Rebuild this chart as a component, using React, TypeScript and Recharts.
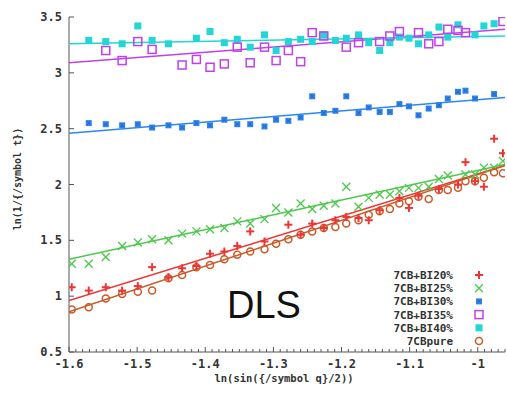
import React from "react";
import { ScatterChart, Scatter, XAxis, YAxis } from "recharts";

// x grid: ln(sin(theta/2)), shared by all series
const xs = [
	-1.596, -1.571, -1.546, -1.522, -1.499, -1.478, -1.454, -1.434, -1.413, -1.393,
	-1.372, -1.353, -1.334, -1.313, -1.296, -1.278, -1.26, -1.243, -1.226, -1.209,
	-1.193, -1.175, -1.16, -1.144, -1.129, -1.115, -1.101, -1.087, -1.072, -1.057,
	-1.044, -1.029, -1.018, -1.004, -0.991, -0.976, -0.963,
];

type V = number | null;

const bi20: V[] = [
	1.08, 1.05, 1.08, 1.05, 1.09, 1.26, 1.17, 1.25, 1.27, 1.38, 1.4, 1.45, 1.58, 1.49,
	null, 1.64, 1.55, 1.65, 1.61, 1.68, 1.71, 1.7, 1.68, 1.77, null, 1.88, 1.79, 1.9,
	null, 1.96, null, 2.0, 2.2, 2.03, 1.98, 2.41, 2.28,
];
const bi25: V[] = [
	1.29, 1.29, 1.35, 1.45, 1.48, 1.51, 1.5, 1.56, 1.58, 1.6, 1.61, 1.67, 1.65, 1.69,
	1.79, 1.75, 1.83, 1.78, 1.81, 1.83, 1.98, 1.8, 1.88, 1.91, 1.91, 1.94, 1.97, 1.97,
	1.98, 2.05, 2.08, null, 2.09, 2.09, 2.15, 2.15, 2.21,
];
const bi30: V[] = [
	null, 2.55, 2.54, 2.53, 2.54, 2.51, 2.53, 2.51, 2.55, 2.53, 2.58, 2.54, 2.54, 2.52,
	2.58, 2.57, 2.6, 2.79, 2.64, 2.66, 2.79, 2.64, 2.69, 2.65, 2.65, 2.72, 2.7, 2.62,
	2.68, 2.71, 2.77, 2.83, 2.84, 2.77, null, 2.81, null,
];
const bi35: V[] = [
	null, null, 3.2, 3.11, 3.28, 3.21, null, 3.07, 3.12, 3.05, 3.08, 3.23, 3.09, 3.23,
	3.11, 3.2, 3.1, 3.36, 3.33, null, 3.23, 3.27, null, 3.28, 3.33, 3.37, null, 3.36,
	3.26, 3.28, 3.39, 3.38, 3.36, null, null, null, 3.46,
];
const bi40: V[] = [
	null, 3.29, 3.28, 3.26, 3.42, 3.29, 3.26, null, 3.31, 3.37, 3.27, 3.3, 3.23, 3.34,
	3.2, 3.28, 3.3, 3.28, 3.34, 3.29, 3.31, 3.34, 3.27, 3.2, 3.27, 3.32, 3.31, 3.26,
	3.34, 3.41, 3.32, 3.43, null, 3.34, 3.42, 3.44, null,
];
const pure: V[] = [
	0.88, 0.9, 0.98, 1.02, 1.04, 1.05, 1.16, 1.19, 1.26, 1.28, 1.33, 1.37, 1.4, 1.42,
	1.47, 1.51, 1.55, 1.58, 1.61, 1.62, 1.65, 1.68, 1.73, 1.76, 1.78, 1.83, 1.85, 1.89,
	1.87, 1.95, 1.95, 1.97, 2.03, 2.03, 2.06, 2.11, 2.1,
];

// linear fits: value at left and right edge of the x range
const fitX = [-1.6, -0.96];
const fit20 = [0.96, 2.17];
const fit25 = [1.33, 2.18];
const fit30 = [2.46, 2.78];
const fit35 = [3.09, 3.39];
const fit40 = [3.26, 3.33];
const fitPure = [0.86, 2.17];

const yTicks = [0.5, 1, 1.5, 2, 2.5, 3, 3.5];
// minor ticks every 0.01 along the x border
const xMinor = Array.from({ length: 65 }, (_, i) => (-160 + i) / 100);

const RED = "#ee3535";
const GREEN = "#4cc84c";
const BLUE = "#2f86ee";
const MAGENTA = "#c040ee";
const CYAN = "#22d6d6";
const ORANGE = "#cc5a28";
const AXIS = "#555";
const MONO = "'DejaVu Sans Mono', monospace";

const toPoints = (ys: V[]) =>
	xs.map((x, i) => ({ x, y: ys[i] })).filter((p) => p.y !== null);
const toFit = (f: number[]) => fitX.map((x, i) => ({ x, y: f[i] }));

const Plus = ({ cx, cy, c }: any) => (
	<g stroke={c} strokeWidth={2}>
		<line x1={cx - 4} y1={cy} x2={cx + 4} y2={cy} />
		<line x1={cx} y1={cy - 4} x2={cx} y2={cy + 4} />
	</g>
);
const Cross = ({ cx, cy, c }: any) => (
	<g stroke={c} strokeWidth={1.3}>
		<line x1={cx - 4} y1={cy - 4} x2={cx + 4} y2={cy + 4} />
		<line x1={cx - 4} y1={cy + 4} x2={cx + 4} y2={cy - 4} />
	</g>
);
const Star = ({ cx, cy, c }: any) => (
	<g>
		<rect x={cx - 3} y={cy - 3} width={6} height={6} fill={c} />
		<g stroke="#1a5fc0" strokeWidth={0.8}>
			<line x1={cx - 2} y1={cy - 2} x2={cx + 2} y2={cy + 2} />
			<line x1={cx - 2} y1={cy + 2} x2={cx + 2} y2={cy - 2} />
		</g>
	</g>
);
const OpenSq = ({ cx, cy, c }: any) => (
	<rect x={cx - 4} y={cy - 4} width={8} height={8} fill="none" stroke={c} strokeWidth={1.5} />
);
const FullSq = ({ cx, cy, c }: any) => (
	<rect x={cx - 3.5} y={cy - 3.5} width={7} height={7} fill={c} />
);
const Circ = ({ cx, cy, c }: any) => (
	<circle cx={cx} cy={cy} r={3.5} fill="none" stroke={c} strokeWidth={1.5} />
);
const NoShape = () => null;

const series = [
	{ name: "7CB+BI20%", ys: bi20, fit: fit20, color: RED, M: Plus },
	{ name: "7CB+BI25%", ys: bi25, fit: fit25, color: GREEN, M: Cross },
	{ name: "7CB+BI30%", ys: bi30, fit: fit30, color: BLUE, M: Star },
	{ name: "7CB+BI35%", ys: bi35, fit: fit35, color: MAGENTA, M: OpenSq },
	{ name: "7CB+BI40%", ys: bi40, fit: fit40, color: CYAN, M: FullSq },
	{ name: "7CBpure", ys: pure, fit: fitPure, color: ORANGE, M: Circ },
];
// drawing order: top groups first, red crosses last
const drawOrder = [4, 3, 2, 1, 5, 0];

const isMajor = (v: number) => Math.round(v * 100) % 10 === 0;

const BottomTick = ({ x, y, payload }: any) => {
	const major = isMajor(payload.value);
	return (
		<g>
			<line x1={x} y1={y} x2={x} y2={y - (major ? 5 : 3)} stroke={AXIS} />
			{major && (
				<text
					x={x}
					y={y + 16}
					textAnchor="middle"
					fontFamily={MONO}
					fontWeight="bold"
					fontSize={12}
					fill="#333"
				>
					{payload.value === -1 ? "-1" : payload.value.toFixed(1)}
				</text>
			)}
		</g>
	);
};
const TopTick = ({ x, y, payload }: any) => (
	<line x1={x} y1={y} x2={x} y2={y + (isMajor(payload.value) ? 5 : 3)} stroke={AXIS} />
);
const LeftTick = ({ x, y, payload }: any) => (
	<g>
		<line x1={x} y1={y} x2={x + 5} y2={y} stroke={AXIS} />
		<text
			x={x - 7}
			y={y + 4}
			textAnchor="end"
			fontFamily={MONO}
			fontWeight="bold"
			fontSize={12}
			fill="#333"
		>
			{String(payload.value)}
		</text>
	</g>
);
const RightTick = ({ x, y }: any) => (
	<line x1={x} y1={y} x2={x - 5} y2={y} stroke={AXIS} />
);

export default function App() {
	return (
		<div style={{ position: "relative", width: 507, height: 393, background: "#fff" }}>
			<style>{"body{margin:0}"}</style>
			<ScatterChart
				width={507}
				height={393}
				margin={{ top: 17, right: 2, bottom: 0, left: 0 }}
			>
				<XAxis
					dataKey="x"
					type="number"
					domain={[-1.6, -0.96]}
					allowDataOverflow
					ticks={xMinor}
					interval={0}
					height={41}
					tickSize={0}
					tickMargin={0}
					tickLine={false}
					axisLine={{ stroke: AXIS }}
					tick={<BottomTick />}
				/>
				<XAxis
					xAxisId="top"
					orientation="top"
					type="number"
					domain={[-1.6, -0.96]}
					allowDataOverflow
					ticks={xMinor}
					interval={0}
					height={0}
					tickSize={0}
					tickMargin={0}
					tickLine={false}
					axisLine={{ stroke: AXIS }}
					tick={<TopTick />}
				/>
				<YAxis
					dataKey="y"
					type="number"
					domain={[0.5, 3.5]}
					allowDataOverflow
					ticks={yTicks}
					interval={0}
					width={69}
					tickSize={0}
					tickMargin={0}
					tickLine={false}
					axisLine={{ stroke: AXIS }}
					tick={<LeftTick />}
				/>
				<YAxis
					yAxisId="right"
					orientation="right"
					type="number"
					domain={[0.5, 3.5]}
					allowDataOverflow
					ticks={yTicks}
					interval={0}
					width={0}
					tickSize={0}
					tickMargin={0}
					tickLine={false}
					axisLine={{ stroke: AXIS }}
					tick={<RightTick />}
				/>
				{series.map((s) => (
					<Scatter
						key={s.name + "fit"}
						data={toFit(s.fit)}
						line={{ stroke: s.color, strokeWidth: 1.5 }}
						shape={<NoShape />}
						isAnimationActive={false}
					/>
				))}
				{drawOrder.map((i) => {
					const s = series[i];
					const M = s.M;
					return (
						<Scatter
							key={s.name}
							name={s.name}
							data={toPoints(s.ys)}
							shape={(p: any) => <M cx={p.cx} cy={p.cy} c={s.color} />}
							isAnimationActive={false}
						/>
					);
				})}
			</ScatterChart>
			<svg
				width={507}
				height={393}
				style={{ position: "absolute", left: 0, top: 0, pointerEvents: "none" }}
			>
				<text
					transform="translate(21,179) rotate(-90)"
					textAnchor="middle"
					fontFamily={MONO}
					fontWeight="bold"
					fontSize={10}
					fill="#333"
				>
					ln(1/{"{"}/symbol t{"}"})
				</text>
				<text
					x={284}
					y={382}
					textAnchor="middle"
					fontFamily={MONO}
					fontWeight="bold"
					fontSize={10.5}
					fill="#333"
				>
					ln(sin({"{"}/symbol q{"}"}/2))
				</text>
				<text x={227} y={318} fontFamily="'Liberation Sans', Arial, sans-serif" fontSize={38} fill="#111">
					DLS
				</text>
				{series.map((s, i) => {
					const y = 275 + i * 13.2;
					const M = s.M;
					return (
						<g key={s.name}>
							<text
								x={453}
								y={y + 4}
								textAnchor="end"
								fontFamily={MONO}
								fontWeight="bold"
								fontSize={11}
								fill="#333"
							>
								{s.name}
							</text>
							<M cx={479} cy={y} c={s.color} />
						</g>
					);
				})}
			</svg>
		</div>
	);
}
